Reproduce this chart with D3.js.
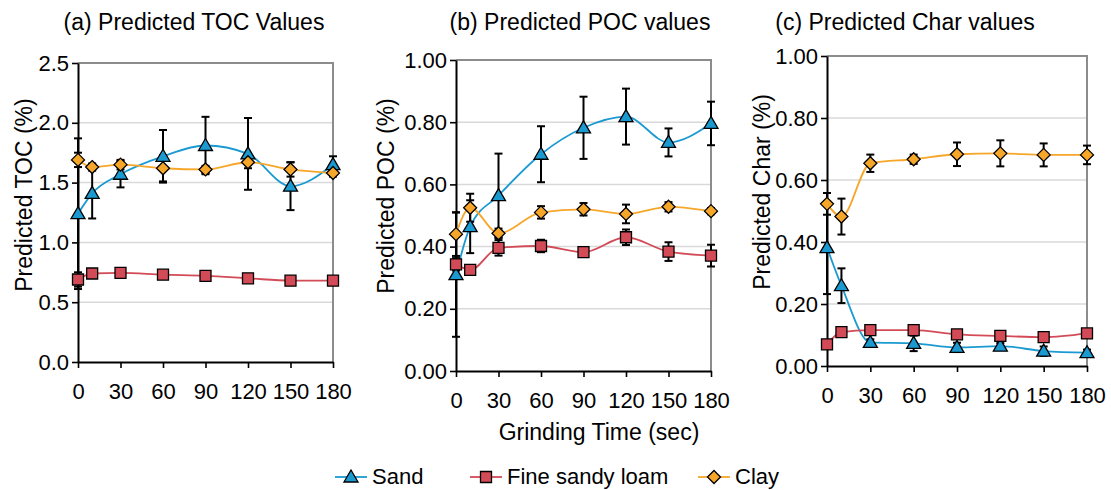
<!DOCTYPE html>
<html>
<head>
<meta charset="utf-8">
<script src="https://cdn.jsdelivr.net/npm/d3@7"></script>
<style>
  body { margin: 0; background: #fff; }
  svg { display: block; font-family: "Liberation Sans", Arial, sans-serif; }
  .tick text { font-size: 22px; fill: #000; }
  .grid line { stroke: #d9d9d9; stroke-width: 1.5; }
</style>
</head>
<body>
<svg width="1111" height="490"></svg>
<script>
// grinding times (sec)
const times = [0, 10, 30, 60, 90, 120, 150, 180]
const tickTimes = [0, 30, 60, 90, 120, 150, 180]

// (a) TOC
const tocSand = [1.24, 1.41, 1.57, 1.72, 1.81, 1.74, 1.47, 1.65]
const tocSandErr = [0.63, 0.21, 0.11, 0.22, 0.24, 0.30, 0.20, 0.07]
const tocLoam = [0.69, 0.74, 0.745, 0.73, 0.72, 0.70, 0.68, 0.68]
const tocLoamErr = [0.06, 0.02, 0.02, 0.02, 0.02, 0.02, 0.02, 0.02]
const tocClay = [1.69, 1.63, 1.65, 1.62, 1.61, 1.67, 1.61, 1.58]
const tocClayErr = [0.06, 0.03, 0.04, 0.11, 0.03, 0.05, 0.06, 0.03]

// (b) POC
const pocSand = [0.31, 0.464, 0.564, 0.697, 0.782, 0.818, 0.735, 0.796]
const pocSandErr = [0.20, 0.085, 0.135, 0.09, 0.10, 0.09, 0.045, 0.07]
const pocLoam = [0.343, 0.325, 0.396, 0.402, 0.382, 0.43, 0.384, 0.371]
const pocLoamErr = [0.02, 0.015, 0.025, 0.02, 0.01, 0.025, 0.03, 0.035]
const pocClay = [0.44, 0.525, 0.443, 0.51, 0.52, 0.505, 0.528, 0.514]
const pocClayErr = [0.07, 0.045, 0.015, 0.02, 0.02, 0.03, 0.015, 0.01]

// (c) Char
const charSand = [0.382, 0.259, 0.076, 0.073, 0.06, 0.064, 0.048, 0.043]
const charSandErr = [0.15, 0.056, 0.01, 0.025, 0.015, 0.01, 0.015, 0.01]
const charLoam = [0.07, 0.109, 0.116, 0.116, 0.102, 0.097, 0.093, 0.105]
const charLoamErr = [0.008, 0.008, 0.008, 0.008, 0.008, 0.008, 0.008, 0.008]
const charClay = [0.523, 0.482, 0.654, 0.667, 0.683, 0.686, 0.681, 0.681]
const charClayErr = [0.035, 0.058, 0.028, 0.015, 0.038, 0.042, 0.037, 0.03]

const seriesNames = ["Sand", "Fine sandy loam", "Clay"]
const seriesColors = ["#1b9ad2", "#d24b57", "#f6a72a"]
const markerPaths = [
    "M0,-7L7,5L-7,5Z",
    "M-5.5,-5.5h11v11h-11Z",
    "M0,-6.5L6.5,0L0,6.5L-6.5,0Z"
]

const svg = d3.select("svg")

const panels = [
    {title: "(a) Predicted TOC Values", ylabel: "Predicted TOC (%)", yMax: 2.5, yTicks: [0, 0.5, 1, 1.5, 2, 2.5], fmt: d3.format(".1f"),
     left: 78, right: 333, top: 63, bottom: 362, titleX: 194, ylabX: 24, ylabY: 195,
     data: [[tocSand, tocSandErr], [tocLoam, tocLoamErr], [tocClay, tocClayErr]]},
    {title: "(b) Predicted POC values", ylabel: "Predicted POC (%)", yMax: 1, yTicks: [0, 0.2, 0.4, 0.6, 0.8, 1], fmt: d3.format(".2f"),
     left: 456, right: 711, top: 60, bottom: 371, titleX: 580, ylabX: 386, ylabY: 196,
     data: [[pocSand, pocSandErr], [pocLoam, pocLoamErr], [pocClay, pocClayErr]]},
    {title: "(c) Predicted Char values", ylabel: "Predicted Char (%)", yMax: 1, yTicks: [0, 0.2, 0.4, 0.6, 0.8, 1], fmt: d3.format(".2f"),
     left: 827, right: 1087, top: 56, bottom: 366, titleX: 905, ylabX: 762, ylabY: 192,
     data: [[charSand, charSandErr], [charLoam, charLoamErr], [charClay, charClayErr]]}
]

panels.forEach(p => {
    const x = d3.scaleLinear().domain([0, 180]).range([p.left, p.right])
    const y = d3.scaleLinear().domain([0, p.yMax]).range([p.bottom, p.top])
    const g = svg.append("g")

    // gridlines
    g.append("g")
        .attr("class", "grid")
        .selectAll("line")
        .data(p.yTicks.slice(1, -1))
        .enter()
        .append("line")
        .attr("x1", p.left).attr("x2", p.right)
        .attr("y1", d => y(d)).attr("y2", d => y(d))

    // frame (top/right grey)
    g.append("path")
        .attr("d", "M" + p.left + "," + p.top + "H" + p.right + "V" + p.bottom)
        .attr("fill", "none")
        .attr("stroke", "#8c8c8c")
        .attr("stroke-width", 2)

    // axes
    const yAxis = g.append("g")
        .attr("transform", "translate(" + p.left + ",0)")
        .call(d3.axisLeft(y).tickValues(p.yTicks).tickFormat(p.fmt).tickSize(6).tickSizeOuter(0).tickPadding(3))
    const xAxis = g.append("g")
        .attr("transform", "translate(0," + p.bottom + ")")
        .call(d3.axisBottom(x).tickValues(tickTimes).tickFormat(d3.format("d")).tickSize(6).tickSizeOuter(0).tickPadding(15))
    ;[yAxis, xAxis].forEach(a => {
        a.select(".domain").attr("stroke", "#000").attr("stroke-width", 2)
        a.selectAll(".tick line").attr("stroke", "#000").attr("stroke-width", 1.6)
        a.selectAll("text").attr("font-family", "Liberation Sans, Arial, sans-serif")
    })

    // title
    svg.append("text")
        .attr("x", p.titleX).attr("y", 30)
        .attr("text-anchor", "middle")
        .style("font-size", "23px")
        .text(p.title)

    // y label
    svg.append("text")
        .attr("transform", "translate(" + p.ylabX + "," + p.ylabY + ") rotate(-90)")
        .attr("text-anchor", "middle")
        .attr("dy", "0.35em")
        .style("font-size", "23px")
        .text(p.ylabel)

    const line = d3.line()
        .x((d, i) => x(times[i]))
        .y(d => y(d))
        .curve(d3.curveMonotoneX)

    // lines
    p.data.forEach((s, k) => {
        g.append("path")
            .attr("d", line(s[0]))
            .attr("fill", "none")
            .attr("stroke", seriesColors[k])
            .attr("stroke-width", 1.8)
    })

    const pointsOf = s => s[0].map((v, i) => ({t: times[i], v: v, e: s[1][i]}))

    // error bars (under markers)
    p.data.forEach(s => {
        const eb = g.append("g")
            .attr("stroke", "#000")
            .attr("stroke-width", 2)
            .selectAll("g")
            .data(pointsOf(s))
            .enter()
            .append("g")
        eb.append("line")
            .attr("x1", d => x(d.t)).attr("x2", d => x(d.t))
            .attr("y1", d => y(d.v - d.e)).attr("y2", d => y(d.v + d.e))
        eb.append("line")
            .attr("x1", d => x(d.t) - 4).attr("x2", d => x(d.t) + 4)
            .attr("y1", d => y(d.v + d.e)).attr("y2", d => y(d.v + d.e))
        eb.append("line")
            .attr("x1", d => x(d.t) - 4).attr("x2", d => x(d.t) + 4)
            .attr("y1", d => y(d.v - d.e)).attr("y2", d => y(d.v - d.e))
    })

    // markers
    p.data.forEach((s, k) => {
        g.append("g")
            .selectAll("path")
            .data(pointsOf(s))
            .enter()
            .append("path")
            .attr("d", markerPaths[k])
            .attr("transform", d => "translate(" + x(d.t) + "," + y(d.v) + ")")
            .attr("fill", seriesColors[k])
            .attr("stroke", "#000")
            .attr("stroke-width", 1.3)
    })
})

// x axis title (middle panel)
svg.append("text")
    .attr("x", 599).attr("y", 440)
    .attr("text-anchor", "middle")
    .style("font-size", "23px")
    .text("Grinding Time (sec)")

// legend
const legendX = [335, 470, 698]
const legend = svg.selectAll("g.legend")
    .data(seriesNames)
    .enter()
    .append("g")
    .attr("class", "legend")
    .attr("transform", (d, i) => "translate(" + legendX[i] + ",477)")
legend.append("line")
    .attr("x1", 0).attr("x2", 32)
    .attr("stroke", (d, i) => seriesColors[i])
    .attr("stroke-width", 1.8)
legend.append("path")
    .attr("d", (d, i) => markerPaths[i])
    .attr("transform", "translate(16,0)")
    .attr("fill", (d, i) => seriesColors[i])
    .attr("stroke", "#000")
    .attr("stroke-width", 1.3)
legend.append("text")
    .attr("x", 37).attr("y", 7)
    .style("font-size", "22px")
    .text(d => d)
</script>
</body>
</html>
